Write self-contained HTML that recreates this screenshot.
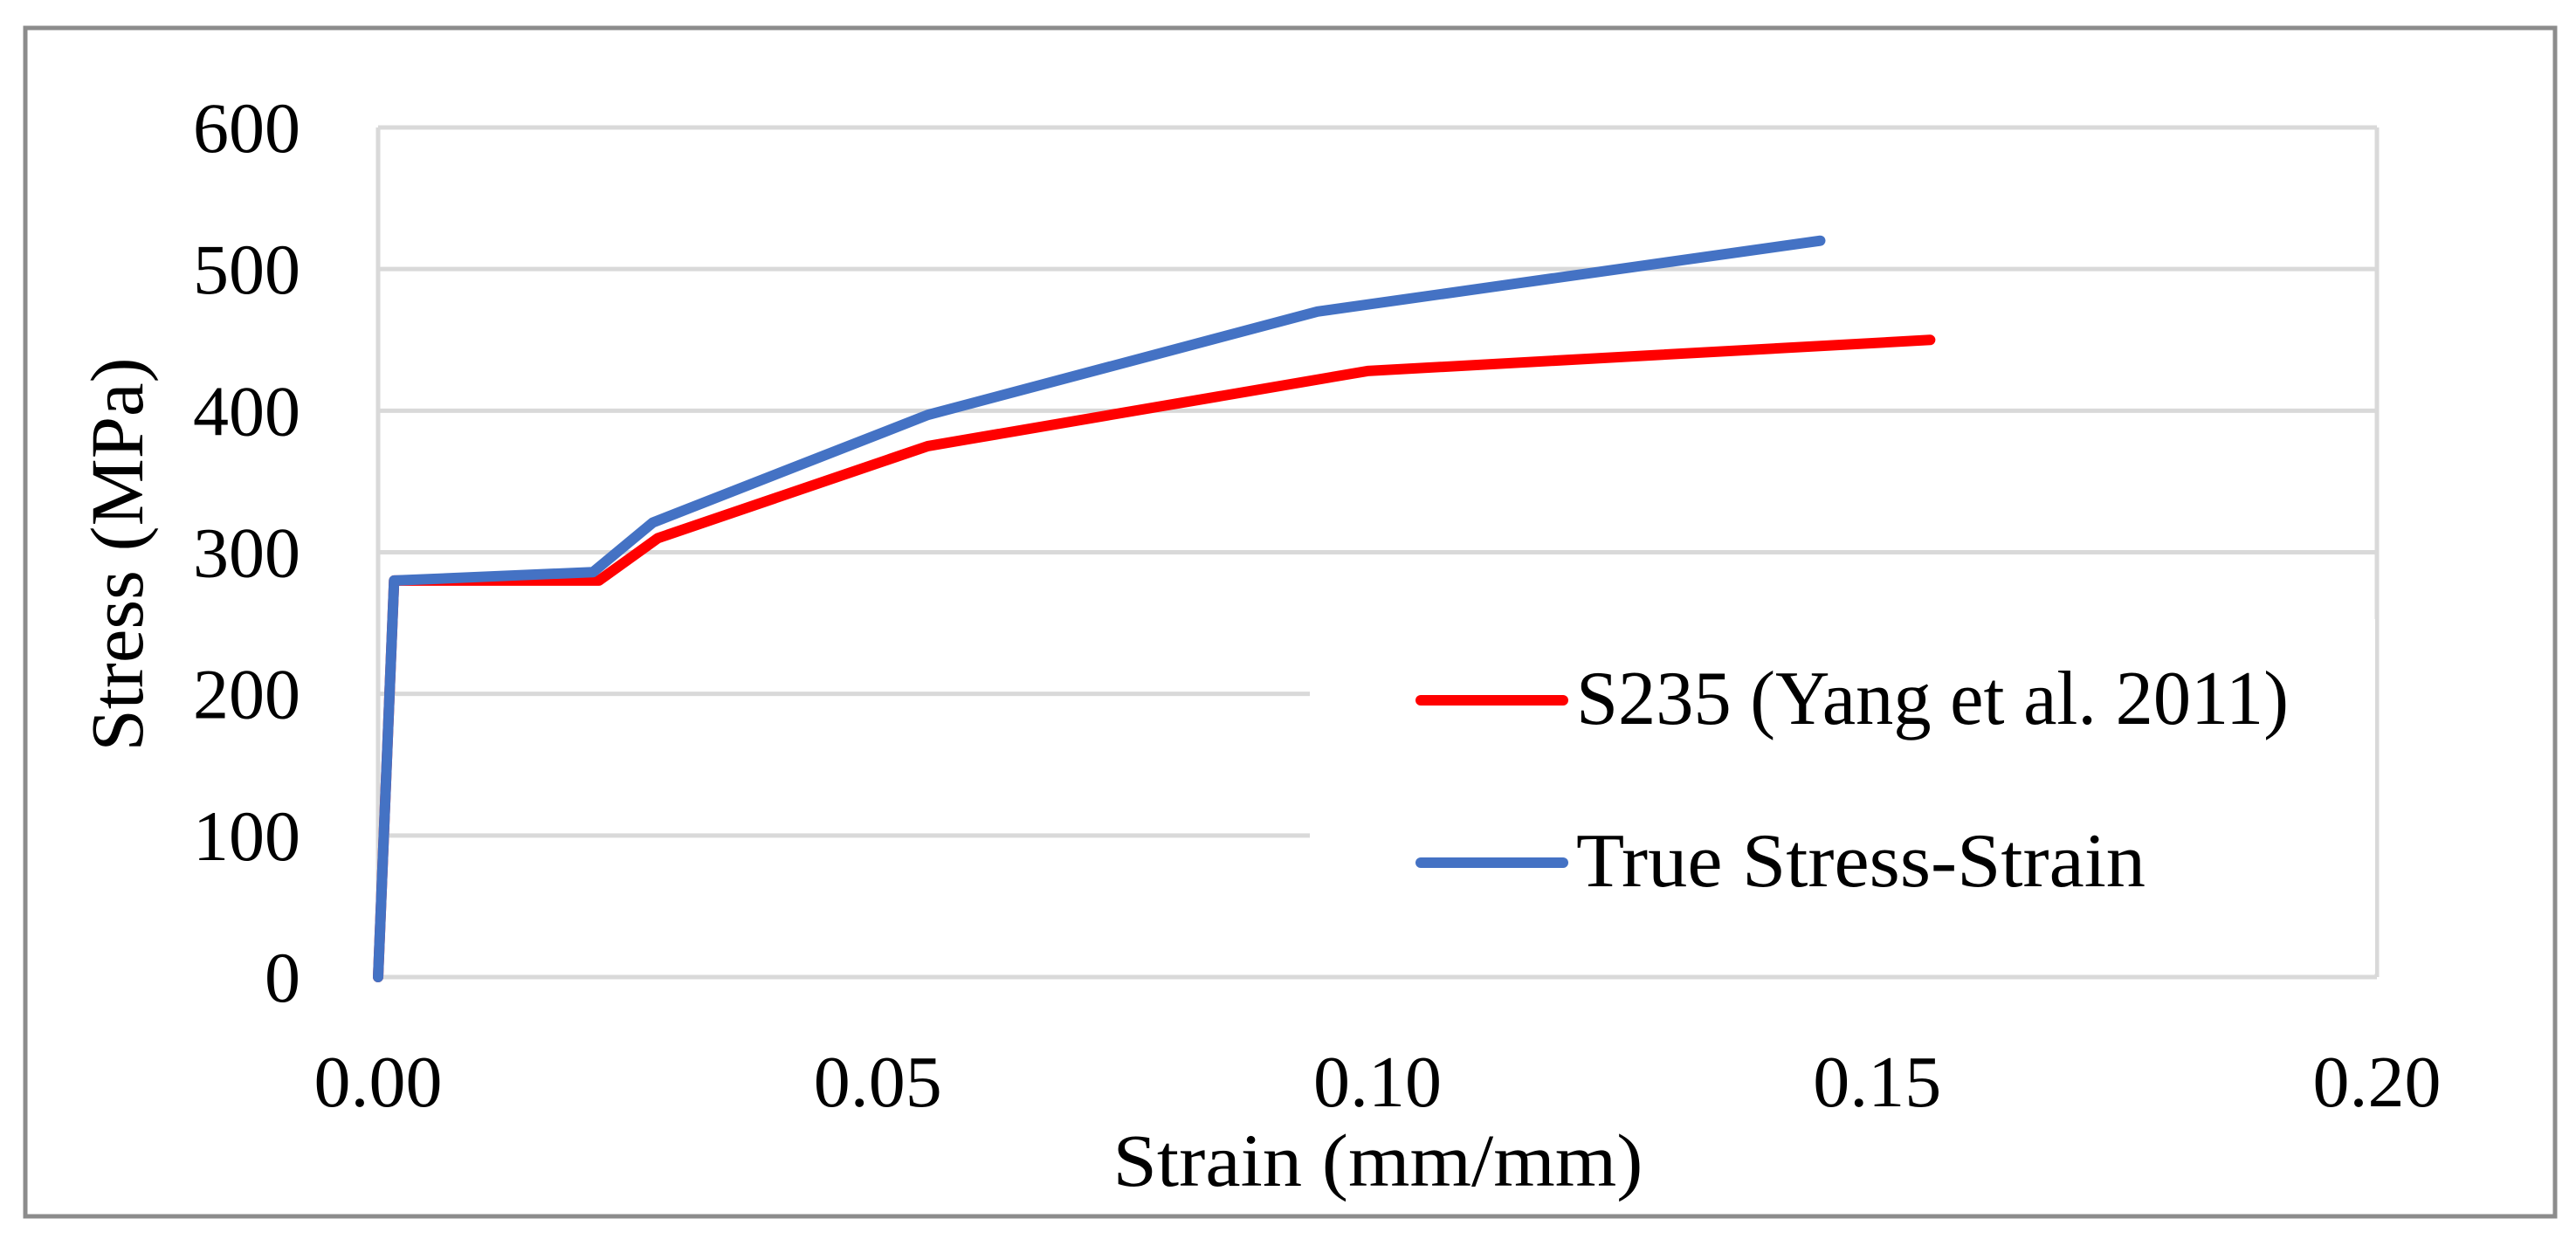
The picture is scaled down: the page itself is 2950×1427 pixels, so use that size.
<!DOCTYPE html>
<html><head><meta charset="utf-8"><style>
html,body{margin:0;padding:0;background:#fff}
svg{display:block}
text{font-family:"Liberation Serif",serif;fill:#000}
</style></head><body>
<svg id="chart" width="2950" height="1427" viewBox="0 0 2950 1427">
<rect x="29" y="32" width="2897" height="1361" fill="#fff" stroke="#8c8c8c" stroke-width="5"/>
<g id="grid"></g>
<g id="series"></g>
<g id="ticks"></g>
<text x="1578" y="1358" font-size="86" text-anchor="middle" textLength="607" lengthAdjust="spacingAndGlyphs">Strain (mm/mm)</text>
<text transform="translate(163,635) rotate(-90)" font-size="86" text-anchor="middle" textLength="451" lengthAdjust="spacingAndGlyphs">Stress (MPa)</text>
<g>
<rect x="1500" y="709" width="1220" height="406" fill="#fff"/>
<g>
<line x1="1627" y1="802" x2="1790" y2="802" stroke="#ff0000" stroke-width="12" stroke-linecap="round"/>
<text x="1805" y="829" font-size="88" textLength="816" lengthAdjust="spacingAndGlyphs">S235 (Yang et al. 2011)</text>
</g>
<g>
<line x1="1627" y1="988" x2="1790" y2="988" stroke="#4472c4" stroke-width="12" stroke-linecap="round"/>
<text x="1805" y="1015" font-size="88" textLength="652" lengthAdjust="spacingAndGlyphs">True Stress-Strain</text>
</g>
</g>
</svg>
<script>
const xTicks=[0,0.05,0.10,0.15,0.20];
const xTickLabels=["0.00","0.05","0.10","0.15","0.20"];
const yTicks=[0,100,200,300,400,500,600];
const yTickLabels=["0","100","200","300","400","500","600"];
const s235Strain=[0,0.0016,0.0221,0.028,0.055,0.099,0.1553];
const s235Stress=[0,280,280,310,375,428,450];
const trueStrain=[0,0.0016,0.0215,0.0275,0.055,0.094,0.1443];
const trueStress=[0,280,286,321,397,470,520];

const NS="http://www.w3.org/2000/svg";
const X0=433,X1=2722,Y0=1119,Y1=146;
function xs(v){return X0+(v-0)/(0.2-0)*(X1-X0);}
function ys(v){return Y0-(v-0)/(600-0)*(Y0-Y1);}
function mk(tag,attrs,parent){const e=document.createElementNS(NS,tag);for(const k in attrs)e.setAttribute(k,attrs[k]);parent.appendChild(e);return e;}
const grid=document.getElementById('grid'),ticks=document.getElementById('ticks'),series=document.getElementById('series');
yTicks.forEach((v,i)=>{
  const l=mk('line',{x1:X0,x2:X1,y1:ys(v),y2:ys(v),stroke:'#d9d9d9','stroke-width':5},grid);
  
  
  const t=mk('text',{x:344,y:ys(v)+28,'font-size':82,'text-anchor':'end'},ticks);
  t.textContent=yTickLabels[i];
  
  
});
const vl=mk('line',{x1:X0,x2:X0,y1:Y1,y2:Y0,stroke:'#d9d9d9','stroke-width':5},grid);


const vr=mk('line',{x1:X1,x2:X1,y1:Y1,y2:Y0,stroke:'#d9d9d9','stroke-width':5},grid);


xTicks.forEach((v,i)=>{
  const t=mk('text',{x:xs(v),y:1267,'font-size':84,'text-anchor':'middle'},ticks);
  t.textContent=xTickLabels[i];
  
  
});
function line(xsArr,ysArr,color,name){
  const d=xsArr.map((v,i)=>(i?'L':'M')+xs(v).toFixed(1)+' '+ys(ysArr[i]).toFixed(1)).join(' ');
  const p=mk('path',{d:d,fill:'none',stroke:color,'stroke-width':12,'stroke-linejoin':'round','stroke-linecap':'round'},series);
  
  
}
line(s235Strain,s235Stress,'#ff0000','s235-line');
line(trueStrain,trueStress,'#4472c4','true-stress-strain-line');
</script>
</body></html>
